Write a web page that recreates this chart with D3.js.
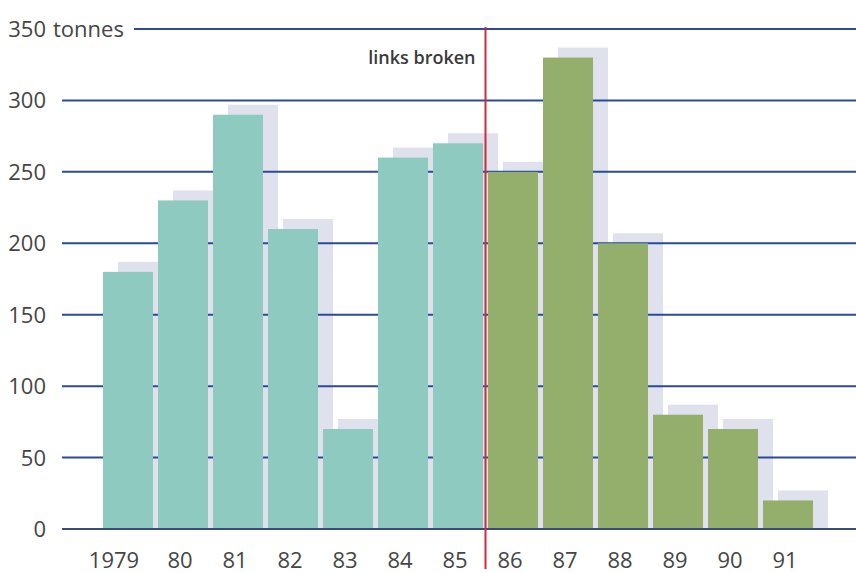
<!DOCTYPE html>
<html>
<head>
<meta charset="utf-8">
<script src="https://cdn.jsdelivr.net/npm/d3@7"></script>
<style>
  html, body { margin: 0; padding: 0; background: #fff; }
  svg { display: block; }
</style>
</head>
<body>
<svg id="chart" width="856" height="573"></svg>
<script>
// Annual tonnage, 1979-1991
const years = ["1979", "80", "81", "82", "83", "84", "85", "86", "87", "88", "89", "90", "91"];
const tonnes = [180, 230, 290, 210, 70, 260, 270, 250, 330, 200, 80, 70, 20];
const yTicks = [0, 50, 100, 150, 200, 250, 300, 350];
const breakYear = "86";          // first year after the links were broken
const breakLabel = "links broken";
const unitLabel = "tonnes";

const colorBefore = "#8ecabf";
const colorAfter = "#94ae6c";
const shadowColor = "#dfe1ed";
const gridColor = "#2c4a98";
const textColor = "#454545";
const font = "'Open Sans', 'Noto Sans', sans-serif";

const svg = d3.select("#chart");

const x = d3.scaleBand()
  .domain(years)
  .range([103, 813])
  .paddingInner(5 / 55)
  .paddingOuter(0);

const y = d3.scaleLinear()
  .domain([0, 350])
  .range([529, 29]);

const breakIndex = years.indexOf(breakYear);
const shadowDx = 15, shadowDy = -10;

// drop shadows behind each bar
svg.append("g")
  .selectAll("rect")
  .data(years)
  .join("rect")
  .attr("x", d => x(d) + shadowDx)
  .attr("y", (d, i) => y(tonnes[i]) + shadowDy)
  .attr("width", x.bandwidth())
  .attr("height", (d, i) => y(0) - y(tonnes[i]) - shadowDy - 1)
  .attr("fill", shadowColor);

// horizontal gridlines with tick labels
const grid = svg.append("g");
grid.selectAll("line")
  .data(yTicks)
  .join("line")
  .attr("x1", d => d === 350 ? 134 : 62)
  .attr("x2", 856)
  .attr("y1", d => y(d))
  .attr("y2", d => y(d))
  .attr("stroke", gridColor)
  .attr("stroke-width", 2);

grid.selectAll("text.tick")
  .data(yTicks)
  .join("text")
  .attr("class", "tick")
  .attr("x", 46)
  .attr("y", d => y(d) + 8)
  .attr("text-anchor", "end")
  .attr("font-family", font)
  .attr("font-size", 22)
  .attr("fill", textColor)
  .text(d => d);

grid.append("text")
  .attr("x", 53)
  .attr("y", y(350) + 8)
  .attr("font-family", font)
  .attr("font-size", 22)
  .attr("fill", textColor)
  .text(unitLabel);

// bars
svg.append("g")
  .selectAll("rect")
  .data(years)
  .join("rect")
  .attr("x", d => x(d))
  .attr("y", (d, i) => y(tonnes[i]))
  .attr("width", x.bandwidth())
  .attr("height", (d, i) => y(0) - y(tonnes[i]) - 1)
  .attr("fill", (d, i) => i < breakIndex ? colorBefore : colorAfter);

// baseline redrawn over the bars
svg.append("line")
  .attr("x1", 62).attr("x2", 856)
  .attr("y1", y(0)).attr("y2", y(0))
  .attr("stroke", "#3b4a7a")
  .attr("stroke-width", 2);

// year labels
svg.append("g")
  .selectAll("text")
  .data(years)
  .join("text")
  .attr("x", (d, i) => x(d) + x.bandwidth() / 2 - (i === 0 ? 14 : 3))
  .attr("y", 568)
  .attr("text-anchor", "middle")
  .attr("font-family", font)
  .attr("font-size", 22)
  .attr("fill", textColor)
  .text(d => d);

// break marker
const breakX = x(breakYear) - (x.step() - x.bandwidth()) / 2;
svg.append("line")
  .attr("x1", breakX).attr("x2", breakX)
  .attr("y1", y(350) - 2).attr("y2", 569)
  .attr("stroke", "#d42b36")
  .attr("stroke-width", 2);

svg.append("text")
  .attr("x", breakX - 10)
  .attr("y", 64)
  .attr("text-anchor", "end")
  .attr("font-family", font)
  .attr("font-size", 18)
  .attr("font-weight", 600)
  .attr("fill", "#3a3a3a")
  .text(breakLabel);
</script>
</body>
</html>
